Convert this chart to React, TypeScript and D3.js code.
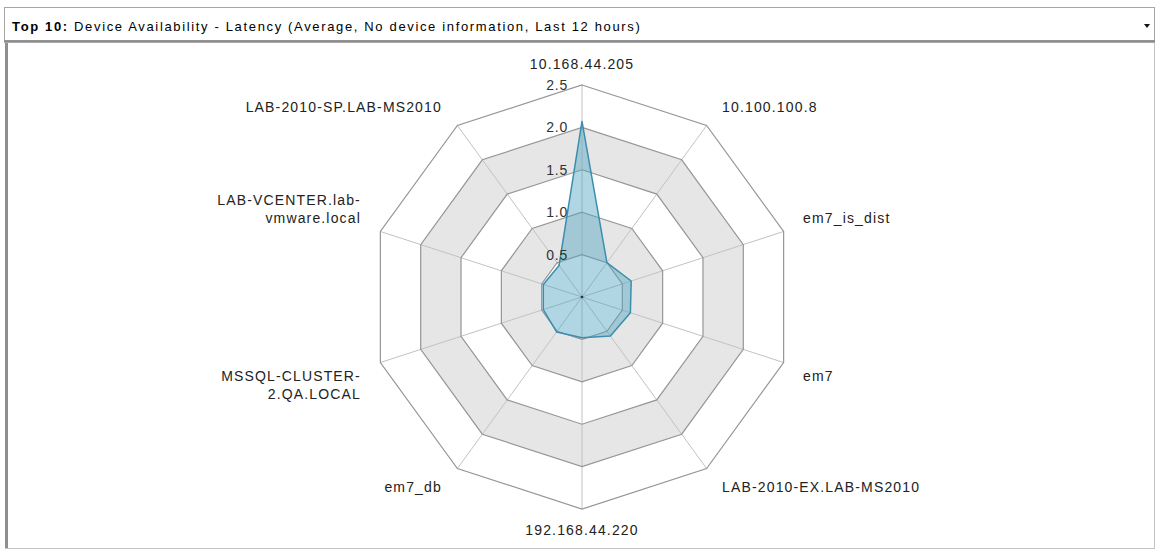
import React from 'react';
import * as d3 from 'd3';

// device names around the radar, clockwise from the top
const devices = [
  '10.168.44.205',
  '10.100.100.8',
  'em7_is_dist',
  'em7',
  'LAB-2010-EX.LAB-MS2010',
  '192.168.44.220',
  'em7_db',
  'MSSQL-CLUSTER-2.QA.LOCAL',
  'LAB-VCENTER.lab-vmware.local',
  'LAB-2010-SP.LAB-MS2010',
];

// wrapped display text for the long labels on the left
const labelLines: string[][] = [
  ['10.168.44.205'],
  ['10.100.100.8'],
  ['em7_is_dist'],
  ['em7'],
  ['LAB-2010-EX.LAB-MS2010'],
  ['192.168.44.220'],
  ['em7_db'],
  ['MSSQL-CLUSTER-', '2.QA.LOCAL'],
  ['LAB-VCENTER.lab-', 'vmware.local'],
  ['LAB-2010-SP.LAB-MS2010'],
];

// average latency per device
const latency = [2.07, 0.5, 0.61, 0.6, 0.57, 0.48, 0.51, 0.48, 0.48, 0.46];

const ticks = [0.5, 1.0, 1.5, 2.0, 2.5];
const tickLabels = ['0.5', '1.0', '1.5', '2.0', '2.5'];

const W = 1158;
const H = 550;
const cx = 582;
const cy = 297;
const R = 212;
const font = '"Liberation Sans", Arial, sans-serif';

const App = () => {
  const r = d3.scaleLinear().domain([0, 2.5]).range([0, R]);
  const angle = d3
    .scaleLinear()
    .domain([0, devices.length])
    .range([0, 2 * Math.PI]);

  const ring = (v: number) =>
    d3
      .lineRadial<number>()
      .angle((_, i) => angle(i))
      .radius(() => r(v))
      .curve(d3.curveLinearClosed)(devices.map(() => v)) as string;

  const area = d3
    .lineRadial<number>()
    .angle((_, i) => angle(i))
    .radius((d) => r(d))
    .curve(d3.curveLinearClosed)(latency) as string;

  const bands = [...ticks].reverse();

  return (
    <div style={{ position: 'absolute', left: 0, top: 0 }}>
      <svg width={W} height={H} style={{ display: 'block', background: '#fff' }}>
        {/* title bar */}
        <rect x={4.5} y={7.5} width={1150} height={33} fill="#fff" stroke="#a6a6a6" />
        <line x1={4} x2={1155} y1={41.5} y2={41.5} stroke="#8c8c8c" strokeWidth={2.5} />
        <text x={12} y={31} fontFamily={font} fontSize={13} fill="#000" letterSpacing={1.65}>
          <tspan fontWeight="bold">Top 10:</tspan>
          <tspan> Device Availability - Latency (Average, No device information, Last 12 hours)</tspan>
        </text>
        <path d="M1144,24 L1150,24 L1147,28 Z" fill="#111" />

        {/* panel borders */}
        <rect x={5} y={43} width={3} height={506} fill="#8f8f8f" />
        <line x1={5} x2={1155} y1={548.5} y2={548.5} stroke="#c4c4c4" />
        <line x1={1154.5} x2={1154.5} y1={43} y2={549} stroke="#c4c4c4" />

        <g transform={`translate(${cx},${cy})`}>
          {bands.map((v, i) => (
            <path key={'b' + v} d={ring(v)} fill={i % 2 === 0 ? '#ffffff' : '#e6e6e6'} />
          ))}
          {devices.map((d, i) => {
            const a = angle(i);
            return (
              <line
                key={'s' + d}
                x1={0}
                y1={0}
                x2={r(2.5) * Math.sin(a)}
                y2={-r(2.5) * Math.cos(a)}
                stroke="#c2c2c2"
                strokeWidth={1}
              />
            );
          })}
          {ticks.map((v) => (
            <path key={'r' + v} d={ring(v)} fill="none" stroke="#969696" strokeWidth={1.2} />
          ))}

          <path d={area} fill="#4fa3c0" fillOpacity={0.45} stroke="#3b8eae" strokeWidth={1.5} strokeLinejoin="round" />
          <circle r={1.3} fill="#333" />

          {ticks.map((v, i) => (
            <text
              key={'t' + v}
              x={-14}
              y={-r(v) + 5}
              textAnchor="end"
              fontFamily={font}
              fontSize={14}
              letterSpacing={0.8}
              fill="#333"
            >
              {tickLabels[i]}
            </text>
          ))}

          {devices.map((d, i) => {
            const a = angle(i);
            const s = Math.sin(a);
            const c = Math.cos(a);
            const rl = r(2.5) + 11;
            const side = Math.abs(s) < 0.01 ? 0 : Math.sign(s);
            const x = rl * s + side * 9;
            const y = -rl * c;
            const lines = labelLines[i];
            const anchor = side === 0 ? 'middle' : side > 0 ? 'start' : 'end';
            const y0 = c > 0 ? y - 5 - (lines.length - 1) * 18 : y + 15;
            return (
              <text
                key={'l' + d}
                x={x}
                y={y0}
                textAnchor={anchor}
                fontFamily={font}
                fontSize={14}
                letterSpacing={1.15}
                fill="#222"
              >
                {lines.map((ln, j) => (
                  <tspan key={j} x={x} dy={j === 0 ? 0 : 18}>
                    {ln}
                  </tspan>
                ))}
              </text>
            );
          })}
        </g>
      </svg>
    </div>
  );
};

export default App;
